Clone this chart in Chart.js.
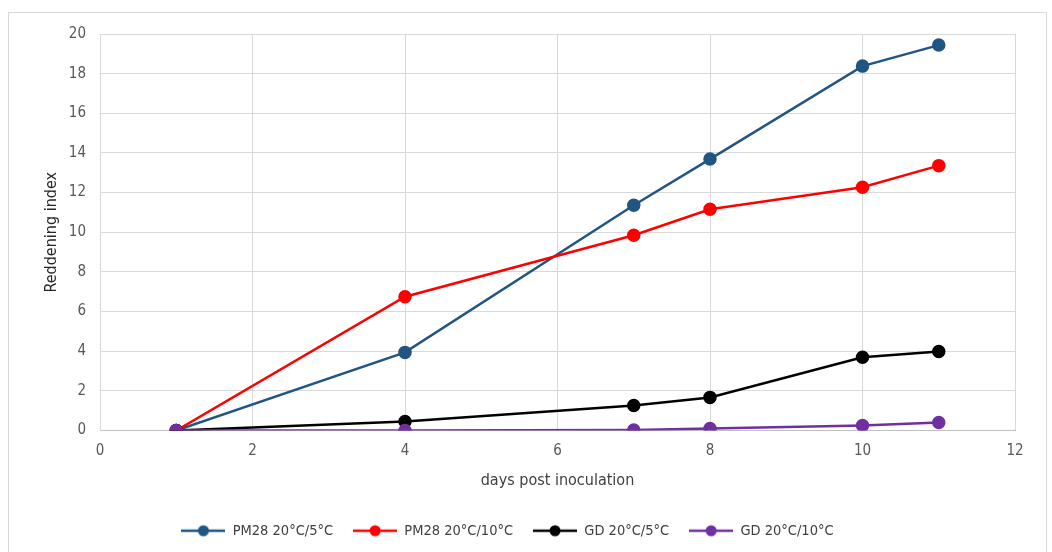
<!DOCTYPE html>
<html>
<head>
<meta charset="utf-8">
<script src="https://cdn.jsdelivr.net/npm/chart.js@4/dist/chart.umd.min.js"></script>
<style>
  body { margin: 0; background: #fff; }
  #wrap { position: relative; width: 1052px; height: 552px; }
  #frame { position: absolute; left: 8px; top: 12px; width: 1037px; height: 560px; border: 1px solid #d9d9d9; pointer-events: none; }
</style>
</head>
<body>
<div id="wrap">
  <canvas id="grafico" width="1052" height="552"></canvas>
  <div id="frame"></div>
</div>
<script>
// dados
const dias = [1, 4, 7, 8, 10, 11];
const pm28_5 = [0, 3.94, 11.36, 13.69, 18.38, 19.44];
const pm28_10 = [0, 6.75, 9.85, 11.16, 12.27, 13.36];
const gd_5 = [0, 0.45, 1.26, 1.67, 3.69, 3.99];
const gd_10 = [0, 0, 0.02, 0.1, 0.25, 0.4];

const nomes = ['PM28 20°C/5°C', 'PM28 20°C/10°C', 'GD 20°C/5°C', 'GD 20°C/10°C'];
const cores = ['#215582', '#ff0000', '#000000', '#7030a0'];
const series = [pm28_5, pm28_10, gd_5, gd_10];

const fonte = "'Liberation Sans Narrow', 'DejaVu Sans Condensed', sans-serif";

// marcador da legenda: linha com bolinha
function marcador(cor) {
  const c = document.createElement('canvas');
  c.width = 44; c.height = 14;
  const g = c.getContext('2d');
  g.strokeStyle = cor; g.lineWidth = 2.5;
  g.beginPath(); g.moveTo(0, 7); g.lineTo(44, 7); g.stroke();
  g.fillStyle = cor;
  g.beginPath(); g.arc(22, 7, 5.5, 0, Math.PI * 2); g.fill();
  return c;
}

const datasets = series.map((s, i) => ({
  label: nomes[i],
  data: dias.map((d, k) => ({ x: d, y: s[k] })),
  borderColor: cores[i],
  backgroundColor: cores[i],
  borderWidth: 2.5,
  pointRadius: 5.5,
  pointHoverRadius: 5.5,
  tension: 0,
  order: 3 - i
}));

new Chart(document.getElementById('grafico'), {
  type: 'line',
  data: { datasets },
  options: {
    responsive: false,
    animation: false,
    layout: { padding: { top: 34, right: 37, left: 0, bottom: 4 } },
    plugins: {
      tooltip: { enabled: false },
      legend: {
        position: 'bottom',
        labels: {
          usePointStyle: true,
          pointStyleWidth: 44,
          padding: 20,
          color: '#404040',
          font: { family: fonte, size: 14.5 },
          generateLabels: () => nomes.map((n, i) => ({
            text: n,
            pointStyle: marcador(cores[i]),
            fillStyle: cores[i],
            strokeStyle: cores[i],
            lineWidth: 0,
            hidden: false,
            datasetIndex: i,
            fontColor: '#404040'
          }))
        }
      }
    },
    scales: {
      x: {
        type: 'linear',
        min: 0, max: 12,
        afterFit: (s) => { s.height = 73; },
        ticks: { stepSize: 2, padding: 12, color: '#595959', font: { family: fonte, size: 15 } },
        grid: { color: '#d9d9d9', drawTicks: false },
        border: { color: '#bfbfbf' },
        title: { display: true, text: 'days post inoculation', color: '#404040', font: { family: fonte, size: 16 }, padding: { top: 0, bottom: 13 } }
      },
      y: {
        min: 0, max: 20,
        afterFit: (s) => { s.width = 100; },
        ticks: { stepSize: 2, padding: 14, color: '#595959', font: { family: fonte, size: 15 } },
        grid: { color: '#d9d9d9', drawTicks: false },
        border: { color: '#d9d9d9' },
        title: { display: true, text: 'Reddening index', color: '#262626', font: { family: fonte, size: 16 }, padding: { top: 42, bottom: 0 } }
      }
    }
  }
});
</script>
</body>
</html>
